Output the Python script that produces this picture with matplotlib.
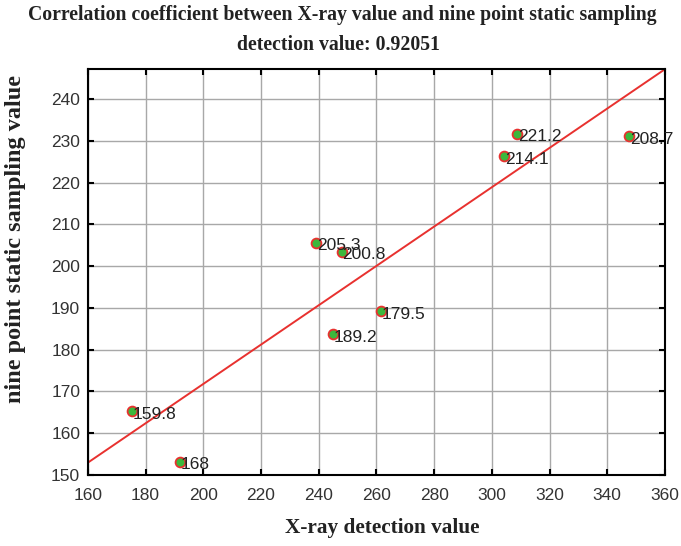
import matplotlib.pyplot as plt
import numpy as np

# X-ray detection vs nine point static sampling
xray = [175.2, 191.9, 245.0, 261.6, 239.2, 247.9, 308.8, 304.3, 347.6]
sampling = [165.3, 153.2, 183.7, 189.2, 205.6, 203.4, 231.7, 226.3, 231.1]
labels = ["159.8", "168", "189.2", "179.5", "205.3", "200.8", "221.2", "214.1", "208.7"]

fit_slope = 0.471
fit_intercept = 77.6
corr = 0.92051

xticks = np.arange(160, 361, 20)
yticks = np.arange(150, 241, 10)

fig = plt.figure(figsize=(6.81, 5.46), dpi=100)
ax = fig.add_axes([0.129, 0.130, 0.8475, 0.7436])

ax.grid(True, color='#a8a8a8', linewidth=1.0)
ax.set_axisbelow(True)

line_x = np.array([160, 360])
ax.plot(line_x, fit_slope * line_x + fit_intercept, color='#e8312f', linewidth=1.4, zorder=2)

ax.scatter(xray, sampling, s=50, c='#3cb83c', edgecolors='#e8312f', linewidths=1.3, zorder=3)
for x, y, t in zip(xray, sampling, labels):
    ax.text(x + 0.3, y - 0.7, t, fontsize=12.5, family='Liberation Sans', color='#222222',
            ha='left', va='center', zorder=4)

ax.set_xlim(160, 360)
ax.set_ylim(150, 247.2)
ax.set_xticks(xticks)
ax.set_yticks(yticks)
ax.tick_params(direction='in', length=4, width=1.5, top=True, right=True,
               labelsize=12.5, labelcolor='#333333', pad=5.5)
ax.tick_params(axis='x', pad=9)
for lab in ax.get_xticklabels() + ax.get_yticklabels():
    lab.set_family('Liberation Sans')
for sp in ax.spines.values():
    sp.set_linewidth(1.5)

ax.set_xlabel("X-ray detection value", family='Liberation Serif', fontsize=15.3,
              fontweight='bold', color='#222222')
ax.xaxis.set_label_coords(0.51, -0.105)
ax.set_ylabel("nine point static sampling value", family='Liberation Serif', fontsize=17.5,
              fontweight='bold', color='#222222')
ax.yaxis.set_label_coords(-0.125, 0.581)
ax.yaxis.label.set_va('center')

fig.text(0.503, 0.972, "Correlation coefficient between X-ray value and nine point static sampling",
         family='Liberation Serif', fontsize=14.2, fontweight='bold', color='#222222',
         ha='center', va='center')
fig.text(0.497, 0.917, f"detection value: {corr}", family='Liberation Serif', fontsize=14.2,
         fontweight='bold', color='#222222', ha='center', va='center')

fig.savefig("out.png", dpi=100)
plt.close(fig)
